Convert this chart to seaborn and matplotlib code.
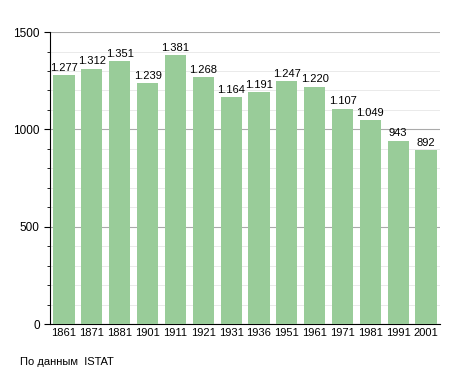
import matplotlib
matplotlib.use("Agg")
import matplotlib.pyplot as plt
from matplotlib.ticker import MultipleLocator
import seaborn as sns
import pandas as pd

years = ["1861", "1871", "1881", "1901", "1911", "1921", "1931", "1936",
         "1951", "1961", "1971", "1981", "1991", "2001"]
population = [1277, 1312, 1351, 1239, 1381, 1268, 1164, 1191,
              1247, 1220, 1107, 1049, 943, 892]

df = pd.DataFrame({"year": years, "pop": population})

sns.set_style("white")
plt.rcParams['font.family'] = ['Liberation Sans', 'DejaVu Sans']
plt.rcParams['text.color'] = 'black'
plt.rcParams['xtick.color'] = 'black'
plt.rcParams['ytick.color'] = 'black'

fig = plt.figure(figsize=(4.55, 3.73), dpi=100)
ax = fig.add_axes([0.11, 0.131, 0.857, 0.783])

sns.barplot(data=df, x="year", y="pop", color="#99cc99", saturation=1,
            width=0.76, linewidth=0, ax=ax, zorder=3)

ax.set_ylim(0, 1500)
ax.set_xlim(-0.5, len(years) - 0.5)
ax.yaxis.set_major_locator(MultipleLocator(500))
ax.yaxis.set_minor_locator(MultipleLocator(100))
ax.grid(which="major", axis="y", color="#aaaaaa", linewidth=0.8, zorder=0)
ax.grid(which="minor", axis="y", color="#e6e6e6", linewidth=0.6, zorder=0)
ax.set_axisbelow(True)

for s in ["top", "right"]:
    ax.spines[s].set_visible(False)
ax.spines["left"].set_color("black")
ax.spines["bottom"].set_color("black")
ax.tick_params(axis="y", which="major", length=4, labelsize=8.5, left=True)
ax.tick_params(axis="y", which="minor", length=2, left=True)
ax.tick_params(axis="x", length=0, labelsize=8, pad=3)
ax.set_xlabel("")
ax.set_ylabel("")

for i, v in enumerate(population):
    label = f"{v:,}".replace(",", ".")
    ax.text(i, v + 12, label, ha="center", va="bottom", fontsize=8,
            color="black", zorder=4)

fig.text(0.044, 0.03, "По данным  ISTAT", fontsize=8, ha="left",
         va="center", color="black")

fig.savefig("out.png", dpi=100)
